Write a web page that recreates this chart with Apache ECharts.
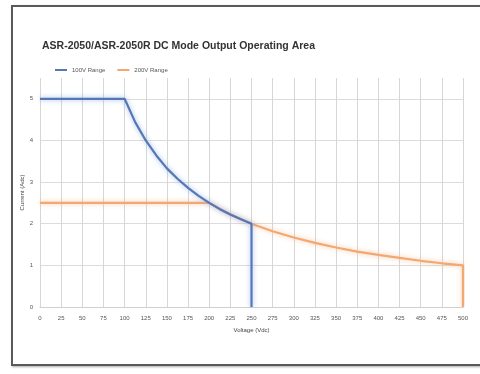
<!DOCTYPE html>
<html>
<head>
<meta charset="utf-8">
<script src="https://cdn.jsdelivr.net/npm/echarts@6/dist/echarts.min.js"></script>
<style>
html,body{margin:0;padding:0;background:#fff;}
#frame{position:absolute;left:11px;top:5px;width:480px;height:357px;border:2px solid #5a5a5a;box-shadow:1px 1px 2px #aaa;}
#chart{position:absolute;left:0;top:0;width:480px;height:374px;}
</style>
</head>
<body>
<div id="frame"></div>
<div id="chart"></div>
<script>
const chartTitle = 'ASR-2050/ASR-2050R DC Mode Output Operating Area';
const seriesNames = ['100V Range', '200V Range'];
const xAxisTitle = 'Voltage (Vdc)';
const yAxisTitle = 'Current (Adc)';
// [voltage, current]
const range100 = [[0,5],[25,5],[50,5],[75,5],[100,5],[112.5,4.44],[125,4],[137.5,3.64],[150,3.33],[162.5,3.08],[175,2.86],[187.5,2.67],[200,2.5],[212.5,2.35],[225,2.22],[237.5,2.11],[250,2],[250,0]];
const range200 = [[0,2.5],[50,2.5],[100,2.5],[150,2.5],[200,2.5],[225,2.22],[250,2],[275,1.82],[300,1.67],[325,1.54],[350,1.43],[375,1.33],[400,1.25],[425,1.18],[450,1.11],[475,1.05],[500,1],[500,0]];

const chart = echarts.init(document.getElementById('chart'), null, {renderer:'canvas'});
const lbl = {fontSize:6, color:'#555', fontFamily:'Liberation Sans'};
chart.setOption({
  backgroundColor:'transparent',
  animation:false,
  title:{text:chartTitle, left:37, top:36, textStyle:{fontSize:10.5, fontWeight:'bold', color:'#333', fontFamily:'Liberation Sans'}},
  legend:{left:50, top:62, itemWidth:12, itemHeight:2, itemGap:12, icon:'rect',
    textStyle:{fontSize:6, color:'#555', fontFamily:'Liberation Sans'}, data:seriesNames},
  grid:{left:40, right:17, top:78, bottom:67},
  xAxis:{type:'value', min:0, max:500, interval:25,
    name:xAxisTitle, nameLocation:'middle', nameGap:20, nameMoveOverlap:false,
    nameTextStyle:{fontSize:6, color:'#444', fontFamily:'Liberation Sans'},
    axisLine:{show:true, lineStyle:{color:'#d0d0d0'}}, axisTick:{show:false},
    axisLabel:Object.assign({margin:8}, lbl),
    splitLine:{show:true, lineStyle:{color:'#d6d6d6', width:1}}},
  yAxis:{type:'value', min:0, max:5.5, interval:1,
    name:yAxisTitle, nameLocation:'middle', nameGap:15, nameMoveOverlap:false,
    nameTextStyle:{fontSize:6, color:'#444', fontFamily:'Liberation Sans'},
    axisLine:{show:false}, axisTick:{show:false},
    axisLabel:Object.assign({margin:7, showMaxLabel:false}, lbl),
    splitLine:{show:true, showMaxLine:false, lineStyle:{color:'#dcdcdc', width:1}}},
  series:[
    {name:seriesNames[1], type:'line', data:range200, showSymbol:false, symbol:'none',
      lineStyle:{color:'#f2a873', width:2.2, shadowBlur:5, shadowColor:'rgba(245,180,130,0.8)'},
      itemStyle:{color:'#f2a873'}},
    {name:seriesNames[0], type:'line', data:range100, showSymbol:false, symbol:'none',
      lineStyle:{color:'#5677b5', width:2.2, shadowBlur:5, shadowColor:'rgba(140,175,230,0.9)'},
      itemStyle:{color:'#5677b5'}}
  ]
});
</script>
</body>
</html>
